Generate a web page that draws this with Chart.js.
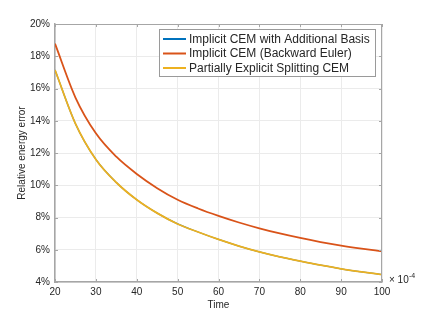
<!DOCTYPE html>
<html>
<head>
<meta charset="utf-8">
<script src="https://cdn.jsdelivr.net/npm/chart.js@4"></script>
<style>
  html, body { margin: 0; padding: 0; background: #fff; }
  canvas { display: block; }
</style>
</head>
<body>
<canvas id="chart" width="422" height="317"></canvas>
<script>
// time (x 10^-4) and relative energy error (%)
var times = [20, 25, 30, 35, 40, 45, 50, 55, 60, 65, 70, 75, 80, 85, 90, 95, 100];
var additionalBasis = [17.15, 13.82, 11.6, 10.17, 9.1, 8.27, 7.6, 7.1, 6.64, 6.23, 5.87, 5.56, 5.29, 5.04, 4.82, 4.63, 4.46];
var backwardEuler = [18.78, 15.44, 13.22, 11.77, 10.7, 9.82, 9.1, 8.56, 8.1, 7.69, 7.33, 7.01, 6.73, 6.48, 6.26, 6.07, 5.9];
var explicitSplitting = [17.15, 13.82, 11.6, 10.17, 9.1, 8.27, 7.6, 7.1, 6.64, 6.23, 5.87, 5.56, 5.29, 5.04, 4.82, 4.63, 4.46];
var seriesNames = ['Implicit CEM with Additional Basis', 'Implicit CEM (Backward Euler)', 'Partially Explicit Splitting CEM'];
var seriesColors = ['#0072BD', '#D95319', '#EDB120'];
var xTicks = [20, 30, 40, 50, 60, 70, 80, 90, 100];
var yTicks = [4, 6, 8, 10, 12, 14, 16, 18, 20];

var font = 'Liberation Sans, Arial, Helvetica, sans-serif';
var textColor = '#262626';
var axisColor = '#a6a6a6';

function toPoints(values) {
    return times.map(function (t, i) { return { x: t, y: values[i] }; });
}

var allSeries = [additionalBasis, backwardEuler, explicitSplitting];
var widths = [1.3, 1.8, 1.8];
var datasets = [];
for (let i = 0; i < allSeries.length; i += 1) {
    datasets.push({
        label: seriesNames[i],
        data: toPoints(allSeries[i]),
        borderColor: seriesColors[i],
        borderWidth: widths[i],
        pointRadius: 0,
        fill: false,
        cubicInterpolationMode: 'monotone',
        order: allSeries.length - i
    });
}

// box, inward ticks, legend and exponent label, matlab style
const matlabFrame = {
    id: 'matlabFrame',
    afterDatasetsDraw(chart) {
        const ctx = chart.ctx;
        const a = chart.chartArea;
        const xs = chart.scales.x, ys = chart.scales.y;
        ctx.save();
        ctx.strokeStyle = axisColor;
        ctx.lineWidth = 1;
        ctx.beginPath();
        ctx.moveTo(a.left, a.top + 0.5);
        ctx.lineTo(a.right, a.top + 0.5);
        ctx.moveTo(a.right - 0.5, a.top);
        ctx.lineTo(a.right - 0.5, a.bottom);
        xTicks.forEach(function (t) {
            const px = Math.round(xs.getPixelForValue(t)) + 0.5;
            ctx.moveTo(px, a.bottom); ctx.lineTo(px, a.bottom - 3);
            ctx.moveTo(px, a.top); ctx.lineTo(px, a.top + 3);
        });
        yTicks.forEach(function (t) {
            const py = Math.round(ys.getPixelForValue(t)) + 0.5;
            ctx.moveTo(a.left, py); ctx.lineTo(a.left + 3, py);
            ctx.moveTo(a.right, py); ctx.lineTo(a.right - 3, py);
        });
        ctx.stroke();

        // legend
        const bx = 159.5, by = 29.5, bw = 216, bh = 47;
        ctx.fillStyle = '#fff';
        ctx.fillRect(bx, by, bw, bh);
        ctx.strokeStyle = '#9a9a9a';
        ctx.strokeRect(bx, by, bw, bh);
        ctx.font = '12px ' + font;
        ctx.textBaseline = 'middle';
        ctx.textAlign = 'left';
        chart.data.datasets.forEach(function (ds, i) {
            const cy = 39 + i * 14.5;
            ctx.strokeStyle = ds.borderColor;
            ctx.lineWidth = 2;
            ctx.beginPath();
            ctx.moveTo(163, cy);
            ctx.lineTo(186, cy);
            ctx.stroke();
            ctx.fillStyle = textColor;
            ctx.fillText(ds.label, 189, cy + 0.5);
        });

        // x exponent
        ctx.font = '10px ' + font;
        ctx.fillStyle = textColor;
        ctx.textBaseline = 'alphabetic';
        ctx.fillText('\u00d7 10', 389, 283);
        ctx.font = '7px ' + font;
        ctx.fillText('-4', 409, 278);
        ctx.restore();
    }
};

new Chart(document.getElementById('chart'), {
    type: 'line',
    data: { datasets: datasets },
    plugins: [matlabFrame],
    options: {
        responsive: false,
        animation: false,
        layout: { padding: { top: 24, right: 40, left: 0, bottom: 0 } },
        plugins: {
            legend: { display: false },
            tooltip: { enabled: false }
        },
        scales: {
            x: {
                type: 'linear',
                min: 20,
                max: 100,
                afterFit: function (scale) { scale.height = 35; },
                afterBuildTicks: function (scale) {
                    scale.ticks = xTicks.map(function (v) { return { value: v }; });
                },
                grid: { color: '#ebebeb', drawTicks: false },
                border: { display: true, color: axisColor, width: 1.5 },
                ticks: {
                    padding: 4,
                    maxRotation: 0,
                    color: textColor,
                    font: { family: font, size: 10 }
                },
                title: {
                    display: true,
                    text: 'Time',
                    color: textColor,
                    font: { family: font, size: 10 },
                    padding: { top: 0, bottom: 6 }
                }
            },
            y: {
                min: 4,
                max: 20,
                afterFit: function (scale) { scale.width = 55; },
                afterBuildTicks: function (scale) {
                    scale.ticks = yTicks.map(function (v) { return { value: v }; });
                },
                grid: { color: '#ebebeb', drawTicks: false },
                border: { display: true, color: axisColor, width: 1.5 },
                ticks: {
                    padding: 5,
                    color: textColor,
                    font: { family: font, size: 10 },
                    callback: function (v) { return v + '%'; }
                },
                title: {
                    display: true,
                    text: 'Relative energy error',
                    color: textColor,
                    font: { family: font, size: 10 },
                    padding: { top: 16, bottom: 0 }
                }
            }
        }
    }
});
</script>
</body>
</html>
